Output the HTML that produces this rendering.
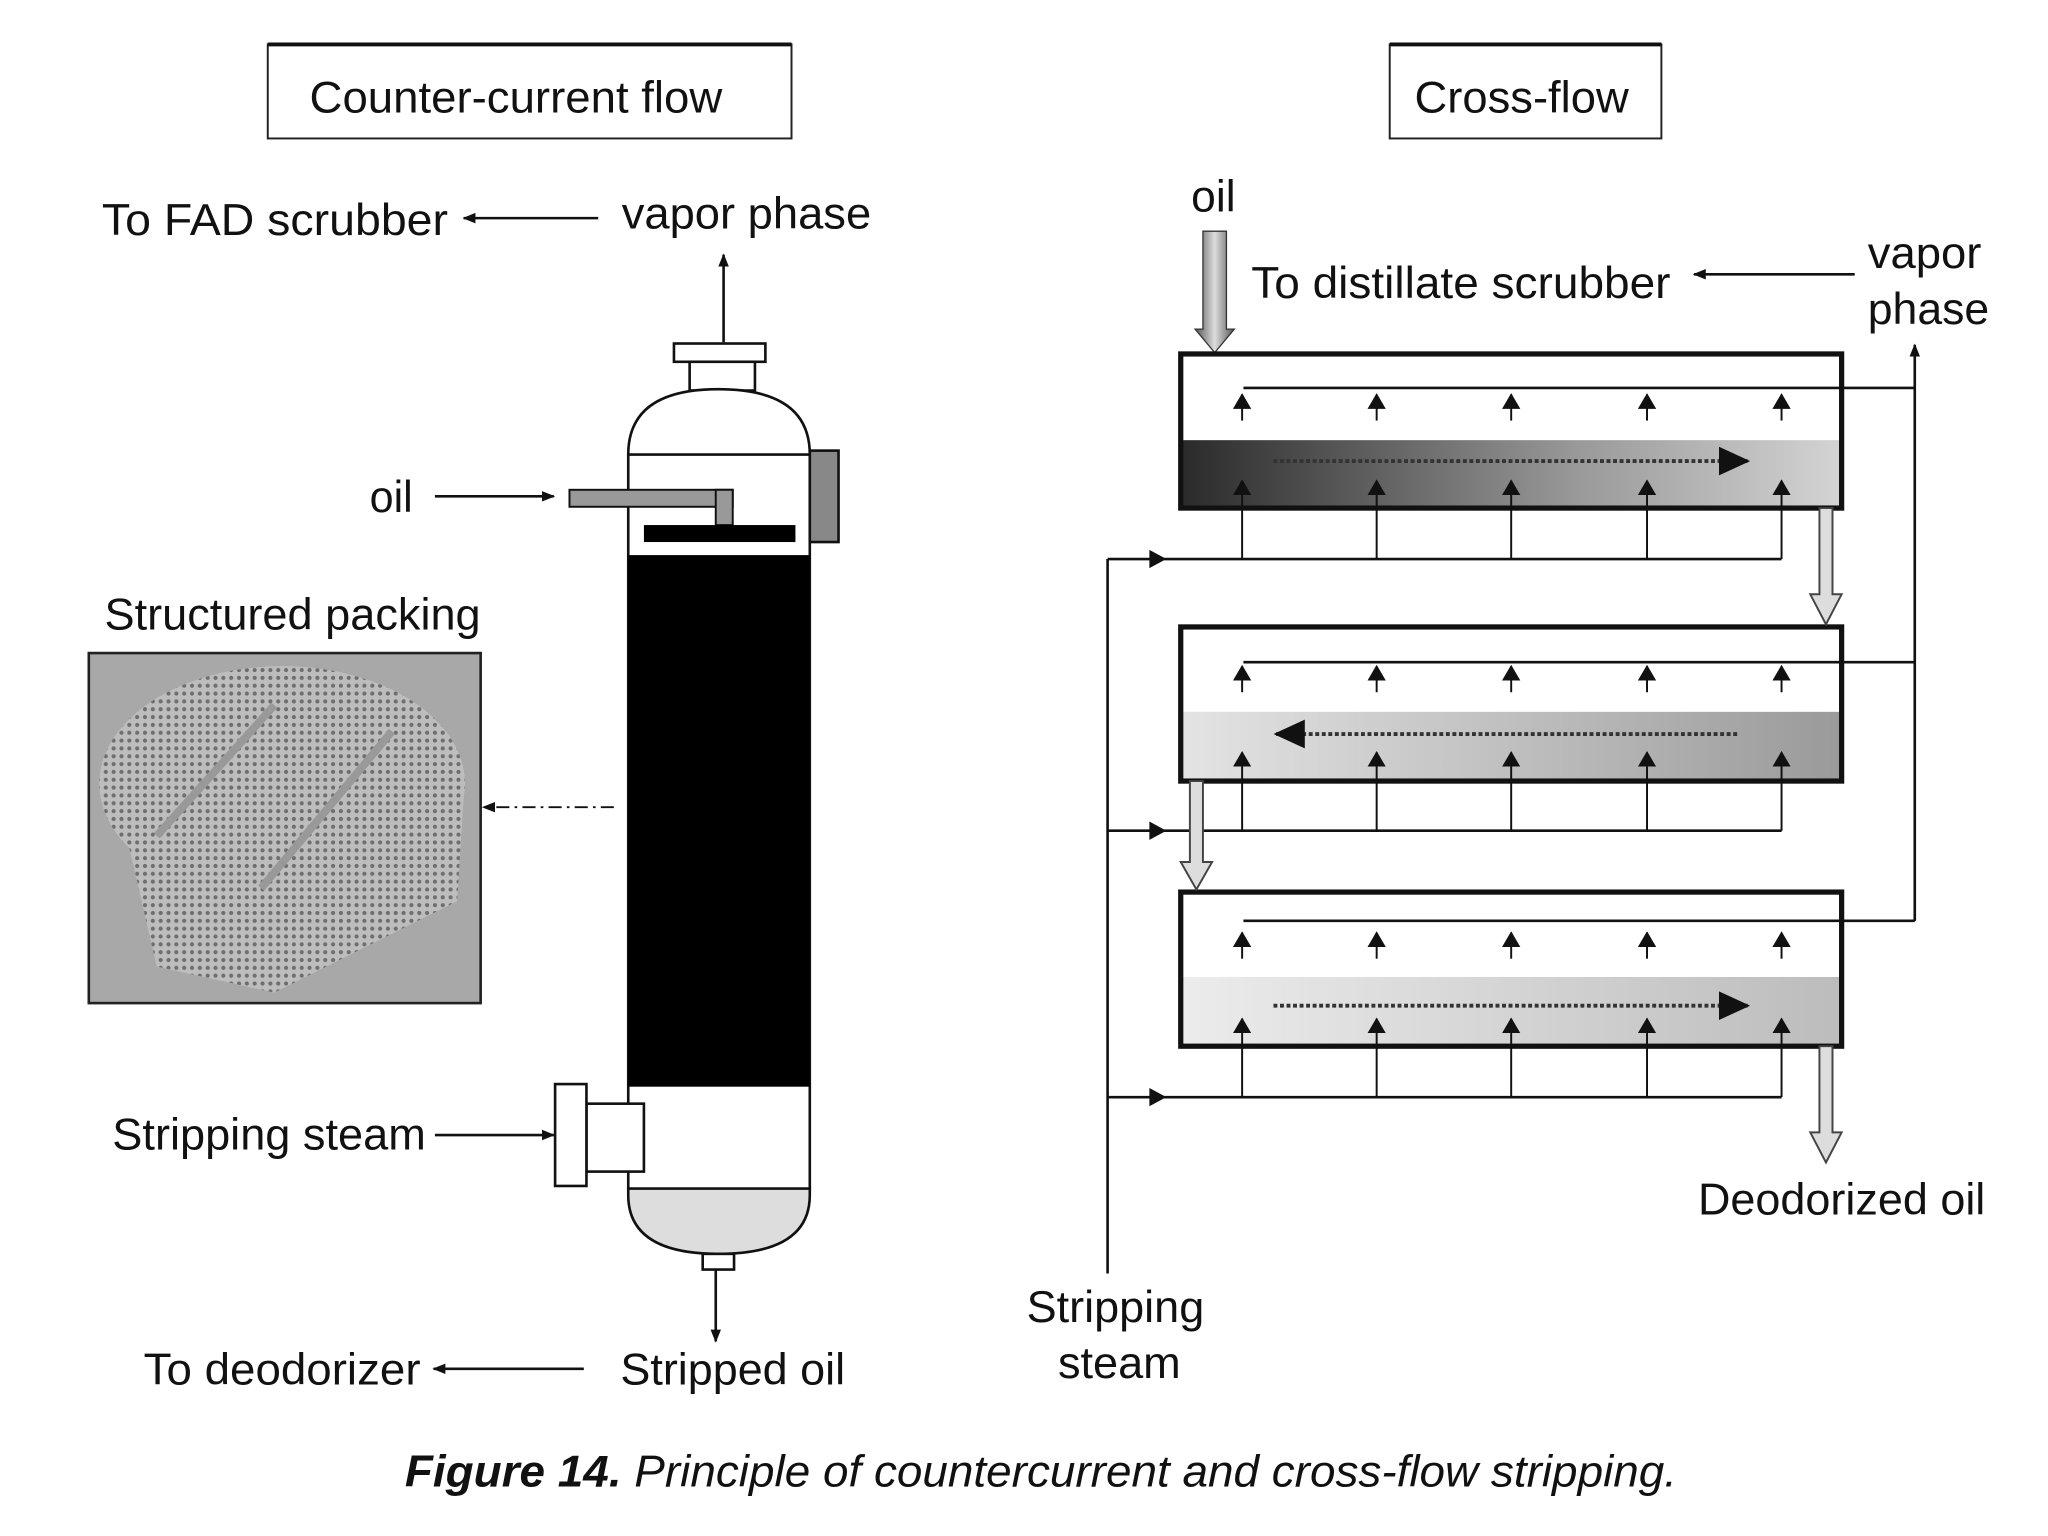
<!DOCTYPE html>
<html><head><meta charset="utf-8"><style>html,body{margin:0;padding:0;background:#fff}svg{display:block}</style></head>
<body>
<svg width="2048" height="1536" viewBox="0 0 1568 1176" preserveAspectRatio="none" xmlns="http://www.w3.org/2000/svg" font-family="Liberation Sans, sans-serif" font-size="34" fill="#111">
<defs>
<marker id="ah" markerWidth="10" markerHeight="10" refX="9" refY="5" orient="auto" markerUnits="userSpaceOnUse"><path d="M0,1 L10,5 L0,9 z" fill="#111"/></marker>
<marker id="ahs" markerWidth="12" markerHeight="14" refX="11" refY="7" orient="auto" markerUnits="userSpaceOnUse"><path d="M0,0 L12,7 L0,14 z" fill="#111"/></marker>
<marker id="ahb" markerWidth="24" markerHeight="24" refX="22" refY="12" orient="auto" markerUnits="userSpaceOnUse"><path d="M0,1 L24,12 L0,23 z" fill="#111"/></marker>
<linearGradient id="g1" x1="0" x2="1"><stop offset="0" stop-color="#2a2a2a"/><stop offset="0.6" stop-color="#999"/><stop offset="1" stop-color="#d4d4d4"/></linearGradient>
<linearGradient id="g2" x1="0" x2="1"><stop offset="0" stop-color="#e4e4e4"/><stop offset="1" stop-color="#9a9a9a"/></linearGradient>
<linearGradient id="g3" x1="0" x2="1"><stop offset="0" stop-color="#ececec"/><stop offset="1" stop-color="#bcbcbc"/></linearGradient>
<linearGradient id="gv" x1="0" x2="1"><stop offset="0" stop-color="#555"/><stop offset="0.5" stop-color="#ddd"/><stop offset="1" stop-color="#555"/></linearGradient>
<pattern id="mesh" width="6" height="6" patternUnits="userSpaceOnUse"><rect width="6" height="6" fill="#bdbdbd"/><circle cx="3" cy="3" r="1.6" fill="#6e6e6e"/></pattern>
</defs>

<rect x="205" y="34" width="401" height="72" fill="none" stroke="#222" stroke-width="1.5"/>
<line x1="205" y1="34" x2="606" y2="34" stroke="#111" stroke-width="3"/>
<text x="237" y="86" textLength="316" lengthAdjust="spacingAndGlyphs">Counter-current flow</text>

<text x="78" y="180" textLength="265" lengthAdjust="spacingAndGlyphs">To FAD scrubber</text>
<line x1="458" y1="167" x2="355" y2="167" stroke="#111" stroke-width="2" marker-end="url(#ah)"/>
<text x="476" y="175" textLength="191" lengthAdjust="spacingAndGlyphs">vapor phase</text>
<line x1="554" y1="262" x2="554" y2="195" stroke="#111" stroke-width="2" marker-end="url(#ah)"/>

<rect x="516" y="263" width="70" height="14" fill="#fff" stroke="#111" stroke-width="2"/>
<rect x="528" y="277" width="50" height="22" fill="#fff" stroke="#111" stroke-width="2"/>
<path d="M481,910 L481,348 Q481,298 550,298 Q620,298 620,348 L620,910" fill="#fff" stroke="#111" stroke-width="2"/>
<path d="M481,910 L620,910 L620,915 Q620,960 550,960 Q481,960 481,915 Z" fill="#ddd" stroke="#111" stroke-width="2"/>
<line x1="481" y1="348" x2="620" y2="348" stroke="#111" stroke-width="2"/>
<rect x="620" y="345" width="22" height="70" fill="#888" stroke="#111" stroke-width="2"/>
<rect x="436" y="375" width="125" height="13" fill="#999" stroke="#111" stroke-width="1.5"/>
<rect x="548" y="375" width="13" height="27" fill="#999" stroke="#111" stroke-width="1.5"/>
<rect x="493" y="402" width="116" height="13" fill="#000"/>
<rect x="481" y="425" width="139" height="407" fill="#000"/>
<rect x="538" y="960" width="24" height="12" fill="#fff" stroke="#111" stroke-width="2"/>
<line x1="548" y1="972" x2="548" y2="1027" stroke="#111" stroke-width="2" marker-end="url(#ah)"/>
<rect x="449" y="845" width="44" height="52" fill="#fff" stroke="#111" stroke-width="2"/>
<rect x="425" y="830" width="24" height="78" fill="#fff" stroke="#111" stroke-width="2"/>

<text x="283" y="392" textLength="33" lengthAdjust="spacingAndGlyphs">oil</text>
<line x1="333" y1="380" x2="424" y2="380" stroke="#111" stroke-width="2" marker-end="url(#ah)"/>
<text x="80" y="482" textLength="288" lengthAdjust="spacingAndGlyphs">Structured packing</text>
<rect x="68" y="500" width="300" height="268" fill="#a8a8a8" stroke="#222" stroke-width="2"/>
<ellipse cx="216" cy="600" rx="140" ry="90" fill="url(#mesh)"/>
<path d="M90,610 L120,740 L210,760 L350,690 L355,610 Z" fill="url(#mesh)"/>
<path d="M120,640 L210,540 M200,680 L300,560" stroke="#999" stroke-width="6" fill="none"/>
<line x1="470" y1="618" x2="370" y2="618" stroke="#111" stroke-width="1.5" stroke-dasharray="10,4,2,4" marker-end="url(#ah)"/>
<text x="86" y="880" textLength="240" lengthAdjust="spacingAndGlyphs">Stripping steam</text>
<line x1="333" y1="869" x2="424" y2="869" stroke="#111" stroke-width="2" marker-end="url(#ah)"/>
<text x="110" y="1060" textLength="212" lengthAdjust="spacingAndGlyphs">To deodorizer</text>
<line x1="447" y1="1048" x2="332" y2="1048" stroke="#111" stroke-width="2" marker-end="url(#ah)"/>
<text x="475" y="1060" textLength="172" lengthAdjust="spacingAndGlyphs">Stripped oil</text>

<rect x="1064" y="34" width="208" height="72" fill="none" stroke="#222" stroke-width="1.5"/>
<line x1="1064" y1="34" x2="1272" y2="34" stroke="#111" stroke-width="3"/>
<text x="1083" y="86" textLength="164" lengthAdjust="spacingAndGlyphs">Cross-flow</text>
<text x="912" y="162" textLength="34" lengthAdjust="spacingAndGlyphs">oil</text>
<path d="M921,177 L939,177 L939,252 L945,252 L930,270 L915,252 L921,252 Z" fill="url(#gv)" stroke="#333" stroke-width="1"/>
<text x="958" y="228" textLength="321" lengthAdjust="spacingAndGlyphs">To distillate scrubber</text>
<line x1="1420" y1="210" x2="1297" y2="210" stroke="#111" stroke-width="2" marker-end="url(#ah)"/>
<text x="1430" y="205" textLength="87" lengthAdjust="spacingAndGlyphs">vapor</text>
<text x="1430" y="248" textLength="93" lengthAdjust="spacingAndGlyphs">phase</text>

<g stroke="#111">
<rect x="904" y="337" width="506" height="52" fill="url(#g1)" stroke="none"/>
<rect x="904" y="545" width="506" height="53" fill="url(#g2)" stroke="none"/>
<rect x="904" y="748" width="506" height="53" fill="url(#g3)" stroke="none"/>
<rect x="904" y="271" width="506" height="118" fill="none" stroke-width="4"/>
<rect x="904" y="480" width="506" height="118" fill="none" stroke-width="4"/>
<rect x="904" y="683" width="506" height="118" fill="none" stroke-width="4"/>
</g>
<g stroke="#111" stroke-width="2" fill="none">
<line x1="1466" y1="705" x2="1466" y2="264" marker-end="url(#ah)"/>
<line x1="952" y1="297" x2="1466" y2="297"/>
<line x1="952" y1="507" x2="1466" y2="507"/>
<line x1="952" y1="705" x2="1466" y2="705"/>
<line x1="848" y1="975" x2="848" y2="428"/>
<line x1="848" y1="428" x2="1364" y2="428"/>
<line x1="848" y1="636" x2="1364" y2="636"/>
<line x1="848" y1="840" x2="1364" y2="840"/>
</g>
<g fill="#111">
<path d="M880,421 L893,428 L880,435 Z"/>
<path d="M880,629 L893,636 L880,643 Z"/>
<path d="M880,833 L893,840 L880,847 Z"/>
</g>
<g stroke="#111" stroke-width="1.5">
<g id="arr">
<line x1="951" y1="428" x2="951" y2="368" marker-end="url(#ahs)"/><line x1="951" y1="322" x2="951" y2="302" marker-end="url(#ahs)"/>
<line x1="1054" y1="428" x2="1054" y2="368" marker-end="url(#ahs)"/><line x1="1054" y1="322" x2="1054" y2="302" marker-end="url(#ahs)"/>
<line x1="1157" y1="428" x2="1157" y2="368" marker-end="url(#ahs)"/><line x1="1157" y1="322" x2="1157" y2="302" marker-end="url(#ahs)"/>
<line x1="1261" y1="428" x2="1261" y2="368" marker-end="url(#ahs)"/><line x1="1261" y1="322" x2="1261" y2="302" marker-end="url(#ahs)"/>
<line x1="1364" y1="428" x2="1364" y2="368" marker-end="url(#ahs)"/><line x1="1364" y1="322" x2="1364" y2="302" marker-end="url(#ahs)"/>
</g>
<use href="#arr" transform="translate(0,208)"/>
<use href="#arr" transform="translate(0,412)"/>
</g>
<g stroke="#333" stroke-width="3" stroke-dasharray="3,2">
<line x1="975" y1="353" x2="1338" y2="353" marker-end="url(#ahb)"/>
<line x1="1330" y1="562" x2="977" y2="562" marker-end="url(#ahb)"/>
<line x1="975" y1="770" x2="1338" y2="770" marker-end="url(#ahb)"/>
</g>
<g fill="#ddd" stroke="#444" stroke-width="1.5">
<path d="M1393,389 L1403,389 L1403,455 L1410,455 L1398,478 L1386,455 L1393,455 Z"/>
<path d="M911,598 L921,598 L921,660 L928,660 L916,681 L904,660 L911,660 Z"/>
<path d="M1393,801 L1403,801 L1403,867 L1410,867 L1398,890 L1386,867 L1393,867 Z"/>
</g>
<text x="1300" y="930" textLength="220" lengthAdjust="spacingAndGlyphs">Deodorized oil</text>
<text x="786" y="1012" textLength="136" lengthAdjust="spacingAndGlyphs">Stripping</text>
<text x="810" y="1055" textLength="94" lengthAdjust="spacingAndGlyphs">steam</text>

<text x="310" y="1138" font-style="italic" textLength="974" lengthAdjust="spacingAndGlyphs"><tspan font-weight="bold">Figure 14.</tspan> Principle of countercurrent and cross-flow stripping.</text>
</svg>
</body></html>
